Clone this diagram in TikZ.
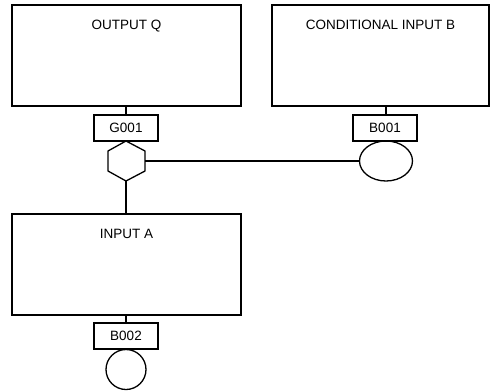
\documentclass[tikz,border=0pt]{standalone}
\usepackage{fontspec}
\setmainfont{Liberation Sans}
\usetikzlibrary{shapes.geometric}
\begin{document}
\begin{tikzpicture}[x=1pt,y=-1pt,line width=1.3pt,
  bigbox/.style={draw,rectangle,minimum width=229pt,minimum height=101pt,inner sep=0pt},
  tagbox/.style={draw,rectangle,minimum width=64pt,minimum height=26pt,inner sep=0pt,font=\fontsize{13.5}{15}\selectfont},
  boxtitle/.style={anchor=base,yshift=-25pt,inner sep=0pt,font=\fontsize{13.5}{15}\selectfont},
  conn/.style={draw,line width=1.3pt}]
\useasboundingbox (0,0) rectangle (490,391);
% main boxes
\node[bigbox,label={[boxtitle]north:OUTPUT Q}] (boxQ) at (126.5,55.5) {};
\node[bigbox,minimum width=217pt,label={[boxtitle]north:CONDITIONAL INPUT B}] (boxB) at (380.5,55.5) {};
\node[bigbox,label={[boxtitle]north:INPUT A}] (boxA) at (126.5,264.5) {};
% tags
\node[tagbox] (G001) at (126,128) {G001};
\node[tagbox] (B001) at (385,128) {B001};
\node[tagbox] (B002) at (126,336) {B002};
% symbols
\node[draw,ellipse,minimum width=53pt,minimum height=40pt,inner sep=0pt] (ellB) at (386,161) {};
\node[draw,circle,minimum size=40pt,inner sep=0pt] (circA) at (126,369.5) {};
\coordinate (hextop) at (126,141);
\coordinate (hexbot) at (126,181);
\coordinate (hexright) at (145,161);
\draw (hextop) -- (145,151) -- (145,171) -- (hexbot) -- (108,171) -- (108,151) -- cycle;
% connectors
\draw[conn] (G001.north |- boxQ.south) -- (G001.north);
\draw[conn] (ellB.north |- boxB.south) -- (ellB.north |- B001.north);
\draw[conn] (hexright) -- (ellB.west);
\draw[conn] (hexbot) -- (hexbot |- boxA.north);
\draw[conn] (B002.north |- boxA.south) -- (B002.north);
\end{tikzpicture}
\end{document}
